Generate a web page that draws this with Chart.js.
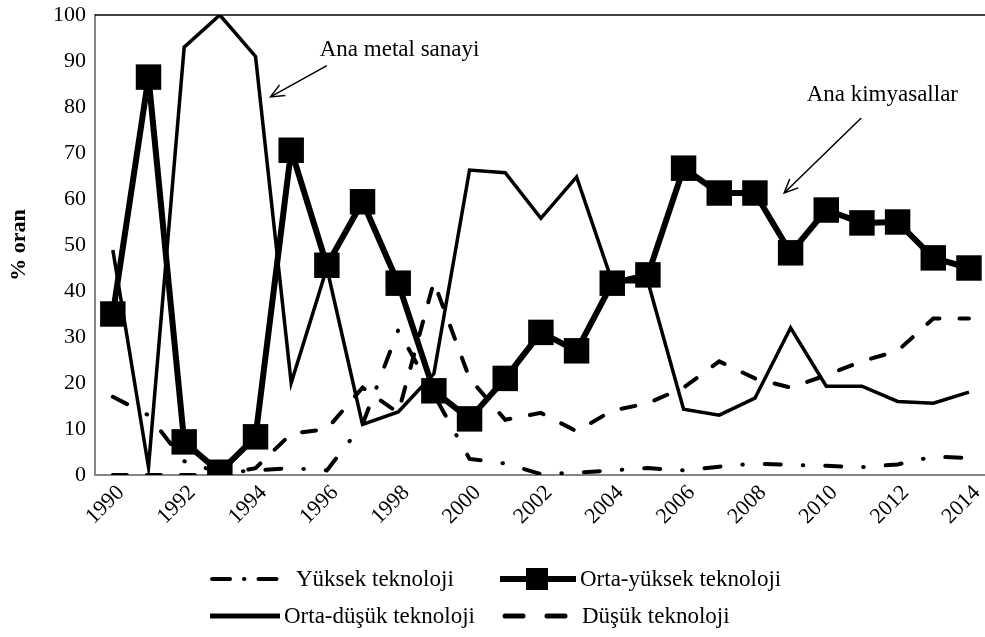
<!DOCTYPE html>
<html lang="tr">
<head>
<meta charset="UTF-8">
<title>Teknoloji düzeyine göre oran</title>
<script src="https://cdn.jsdelivr.net/npm/chart.js"></script>
<style>
  body { margin: 0; background: #fff; font-family: "Liberation Serif", serif; }
  #wrap { position: relative; width: 985px; height: 637px; overflow: hidden; }
  #wrap canvas { position: absolute; left: 0; top: 0; }
  .leg { position: absolute; display: flex; align-items: center; font-size: 23px; color: #000; white-space: nowrap; }
  .leg svg { display: block; margin-right: 2px; }
</style>
</head>
<body>
<div id="wrap">
  <canvas id="chart"></canvas>
  <div class="leg" style="left:208px; top:566px;">
    <svg width="86" height="26"><line x1="4" y1="13" x2="82" y2="13" stroke="#000" stroke-width="4" stroke-linecap="round" stroke-dasharray="18 14 0.5 14"/></svg>
    <span>Yüksek teknoloji</span>
  </div>
  <div class="leg" style="left:498px; top:566px;">
    <svg width="80" height="26"><line x1="2" y1="13" x2="78" y2="13" stroke="#000" stroke-width="6"/><rect x="28" y="2" width="22" height="22" fill="#000"/></svg>
    <span>Orta-yüksek teknoloji</span>
  </div>
  <div class="leg" style="left:208px; top:603px;">
    <svg width="74" height="26"><line x1="2" y1="13" x2="72" y2="13" stroke="#000" stroke-width="5"/></svg>
    <span>Orta-düşük teknoloji</span>
  </div>
  <div class="leg" style="left:500px; top:603px;">
    <svg width="78" height="26"><line x1="5" y1="13" x2="70" y2="13" stroke="#000" stroke-width="5" stroke-linecap="round" stroke-dasharray="18 24"/></svg>
    <span style="margin-left:2px">Düşük teknoloji</span>
  </div>
</div>
<script>
// yıllar ve seriler (% oran)
const years = [1990, 1991, 1992, 1993, 1994, 1995, 1996, 1997, 1998, 1999, 2000, 2001, 2002,
               2003, 2004, 2005, 2006, 2007, 2008, 2009, 2010, 2011, 2012, 2013, 2014];
const yuksek     = [17, 13, 3, 0.5, 1, 1.5, 1, 11, 31.5, 17.5, 3.5, 2.5, 0.2, 0.5, 1, 1.5, 1, 1.8, 2.5, 2.2, 2, 1.7, 2.3, 4, 3.7];
const ortaYuksek = [35, 86.5, 7.2, 0.6, 8.3, 70.6, 45.6, 59.4, 41.7, 18.3, 12.2, 21, 31, 27, 41.7, 43.5, 66.7, 61.3, 61.3, 48.3, 57.6, 54.8, 55, 47.2, 45];
const ortaDusuk  = [48.9, 1.7, 93, 100, 91, 20, 45, 11, 13.7, 22, 66.3, 65.7, 55.8, 64.8, 42, 42, 14.3, 13, 16.7, 32, 19.3, 19.3, 16, 15.6, 18];
const dusuk      = [0, 0, 0, 0, 1.5, 9, 10, 19, 13.5, 42, 21, 12, 13.5, 9.5, 14, 15.6, 19, 24.7, 21, 19, 21.7, 24.7, 27, 34, 34];

// açıklama metinleri (veri koordinatlarında)
const noteTexts  = ['Ana metal sanayi', 'Ana kimyasallar'];
const noteAt     = [[1995.8, 92.4], [2009.45, 82.6]];
const arrowFrom  = [[1996.0, 89.0], [2010.98, 77.6]];
const arrowTo    = [[1994.42, 82.2], [2008.82, 61.3]];

function pts(arr) { return years.map((x, i) => ({ x: x, y: arr[i] })); }

const frameAndNotes = {
  id: 'frameAndNotes',
  afterDraw(chart) {
    const ctx = chart.ctx, a = chart.chartArea;
    const xs = chart.scales.x, ys = chart.scales.y;
    ctx.save();
    // üst çerçeve çizgisi
    ctx.strokeStyle = '#000';
    ctx.lineWidth = 1.5;
    ctx.beginPath();
    ctx.moveTo(a.left, a.top);
    ctx.lineTo(chart.width, a.top);
    ctx.stroke();
    // metinler ve oklar
    ctx.font = '23px "Liberation Serif"';
    ctx.fillStyle = '#000';
    ctx.textAlign = 'left';
    ctx.textBaseline = 'middle';
    for (let i = 0; i < noteTexts.length; i++) {
      ctx.fillText(noteTexts[i], xs.getPixelForValue(noteAt[i][0]), ys.getPixelForValue(noteAt[i][1]));
      const x1 = xs.getPixelForValue(arrowFrom[i][0]), y1 = ys.getPixelForValue(arrowFrom[i][1]);
      const x2 = xs.getPixelForValue(arrowTo[i][0]), y2 = ys.getPixelForValue(arrowTo[i][1]);
      const ang = Math.atan2(y2 - y1, x2 - x1), h = 15, spread = 0.42;
      ctx.lineWidth = 1.5;
      ctx.beginPath();
      ctx.moveTo(x1, y1);
      ctx.lineTo(x2, y2);
      ctx.moveTo(x2 - h * Math.cos(ang - spread), y2 - h * Math.sin(ang - spread));
      ctx.lineTo(x2, y2);
      ctx.lineTo(x2 - h * Math.cos(ang + spread), y2 - h * Math.sin(ang + spread));
      ctx.stroke();
    }
    ctx.restore();
  }
};

Chart.defaults.font.family = '"Liberation Serif", serif';
Chart.defaults.font.size = 22;
Chart.defaults.color = '#000';

new Chart(document.getElementById('chart'), {
  type: 'line',
  data: {
    datasets: [
      {
        label: 'Orta-yüksek teknoloji', data: pts(ortaYuksek), order: 0,
        borderColor: '#000', borderWidth: 6, borderJoinStyle: 'round',
        pointStyle: 'rect', pointRadius: 18, pointBackgroundColor: '#000', pointBorderWidth: 0
      },
      {
        label: 'Yüksek teknoloji', data: pts(yuksek), order: 1,
        borderColor: '#000', borderWidth: 4, borderDash: [16, 22, 0.5, 22], borderCapStyle: 'round',
        pointRadius: 0
      },
      {
        label: 'Orta-düşük teknoloji', data: pts(ortaDusuk), order: 2,
        borderColor: '#000', borderWidth: 3.5, pointRadius: 0
      },
      {
        label: 'Düşük teknoloji', data: pts(dusuk), order: 3,
        borderColor: '#000', borderWidth: 4, borderDash: [14, 20], borderCapStyle: 'round',
        pointRadius: 0
      }
    ]
  },
  options: {
    responsive: true,
    maintainAspectRatio: false,
    animation: false,
    layout: { autoPadding: false, padding: { top: 15, right: 0, bottom: 97, left: 0 } },
    plugins: { legend: { display: false }, tooltip: { enabled: false } },
    elements: { line: { tension: 0 } },
    scales: {
      x: {
        type: 'linear',
        min: 1989.5,
        max: 2014.45,
        grid: { display: false, drawTicks: false },
        border: { color: '#868686', width: 2 },
        ticks: {
          stepSize: 2,
          includeBounds: false,
          autoSkip: false,
          minRotation: 45,
          maxRotation: 45,
          labelOffset: 8,
          padding: 5,
          callback: v => String(v)
        },
        afterFit: s => { s.height = 65; s.paddingLeft = 0; s.paddingRight = 0; }
      },
      y: {
        min: 0,
        max: 100,
        grid: { display: false, drawTicks: false },
        border: { color: '#868686', width: 2 },
        ticks: { stepSize: 10, padding: 9 },
        title: { display: true, text: '% oran', font: { weight: 'bold', size: 22 }, padding: { top: 6, bottom: 0 } },
        afterFit: s => { s.width = 95; s.paddingTop = 0; s.paddingBottom = 0; }
      }
    }
  },
  plugins: [frameAndNotes]
});
</script>
</body>
</html>
